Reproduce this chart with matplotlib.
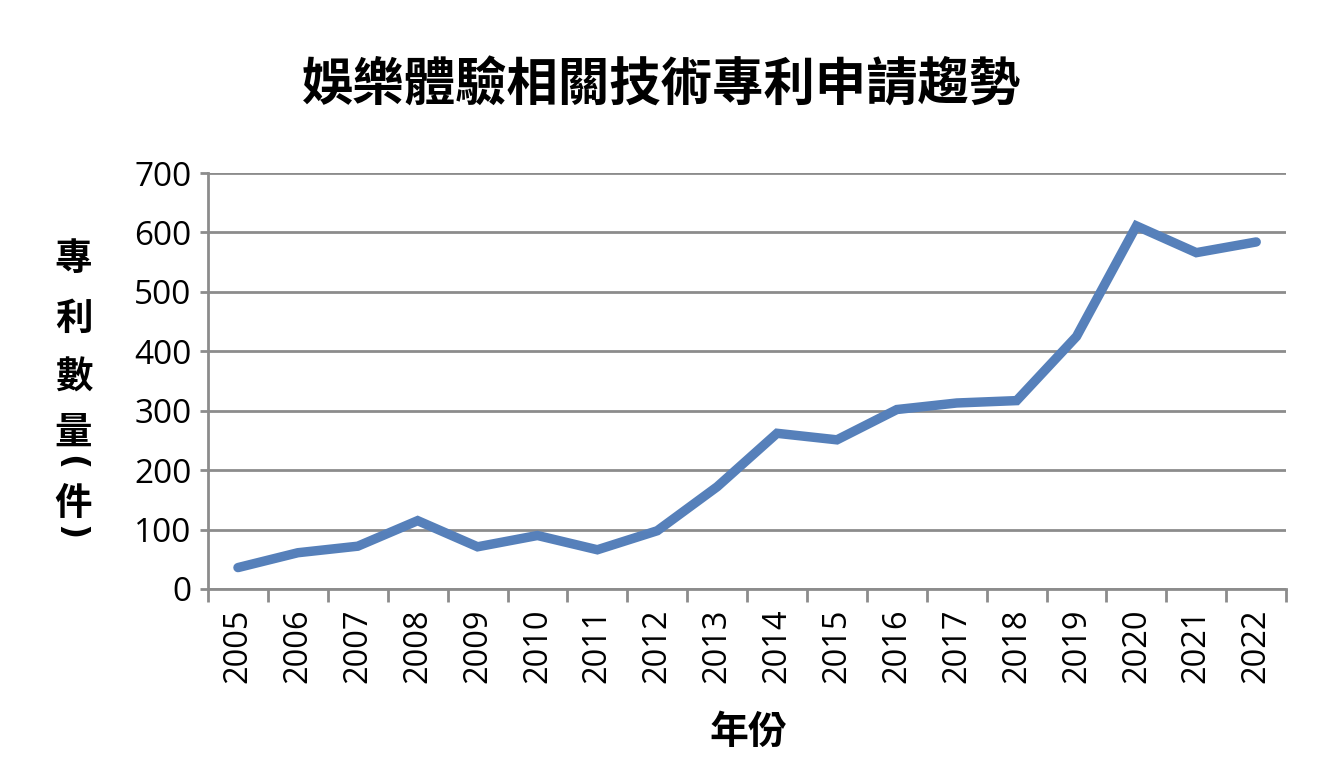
import matplotlib
matplotlib.use("Agg")
import matplotlib.pyplot as plt
from matplotlib.ticker import FixedLocator

plt.rcParams['font.family'] = ['Noto Sans CJK TC', 'DejaVu Sans']

years = ['2005', '2006', '2007', '2008', '2009', '2010', '2011', '2012', '2013',
         '2014', '2015', '2016', '2017', '2018', '2019', '2020', '2021', '2022']
counts = [36, 61, 72, 115, 71, 90, 66, 98, 172, 262, 251, 302, 313, 317, 425, 611, 566, 584]
yticks = [0, 100, 200, 300, 400, 500, 600, 700]

title = '娛樂體驗相關技術專利申請趨勢'
xlabel = '年份'
# vertical y label: 專利數量（件）, parentheses drawn rotated as vertical forms
ylabel_chars = ['專', '利', '數', '量', '(', '件', ')']
ylabel_pos = [0.664, 0.586, 0.509, 0.4375, 0.398, 0.344, 0.306]
ylabel_rot = [0, 0, 0, 0, 270, 0, 270]

fig = plt.figure(figsize=(13.36, 7.68), dpi=100)
ax = fig.add_axes([0.1557, 0.2331, 0.807, 0.5416])

x = list(range(len(years)))
ax.plot(x, counts, color='#5680BA', linewidth=6.8, solid_capstyle='round',
        solid_joinstyle='miter', zorder=3)

tick_font = ['Open Sans', 'DejaVu Sans']
ax.set_xlim(-0.5, len(years) - 0.5)
ax.set_ylim(0, 700)
ax.set_yticks(yticks)
ax.set_yticklabels([str(v) for v in yticks], fontsize=24, family=tick_font)
ax.yaxis.grid(True, color='#8c8c8c', linewidth=2)
ax.set_axisbelow(True)

ax.set_xticks(x)
ax.set_xticklabels(years, rotation=90, fontsize=23.5, family=tick_font)
ax.tick_params(axis='x', which='major', length=0, pad=14)
ax.xaxis.set_minor_locator(FixedLocator([i - 0.5 for i in range(len(years) + 1)]))
ax.tick_params(axis='x', which='minor', length=9, width=2, color='#8c8c8c')
ax.tick_params(axis='y', which='major', length=6, width=2, color='#8c8c8c', pad=6)

for s in ['top', 'right']:
    ax.spines[s].set_visible(False)
for s in ['left', 'bottom']:
    ax.spines[s].set_color('#8c8c8c')
    ax.spines[s].set_linewidth(2)

fig.text(0.495, 0.889, title, ha='center', va='center', fontsize=37, fontweight='bold')
fig.text(0.56, 0.046, xlabel, ha='center', va='center', fontsize=28, fontweight='bold')

for ch, yp, rot in zip(ylabel_chars, ylabel_pos, ylabel_rot):
    if rot:
        fig.text(0.053, yp, ch, ha='center', va='center', fontsize=24,
                 fontweight='bold', rotation=rot, family=['DejaVu Sans'])
    else:
        fig.text(0.055, yp, ch, ha='center', va='center', fontsize=27, fontweight='bold')

fig.savefig('out.png', dpi=100)
